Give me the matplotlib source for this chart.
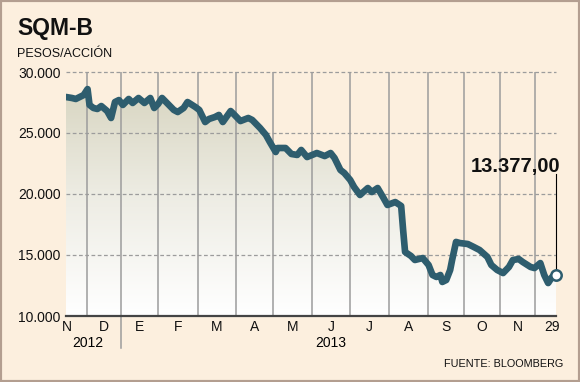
import numpy as np
import matplotlib
matplotlib.use("Agg")
import matplotlib.pyplot as plt
from matplotlib.colors import LinearSegmentedColormap
from matplotlib.patches import PathPatch, Rectangle
from matplotlib.transforms import blended_transform_factory

# SQM-B, cierre diario (sesiones desde mediados de nov 2012 hasta 29 nov 2013)
sesiones = [0, 3, 5, 7, 9, 11, 12, 14, 16, 18,
            21, 23, 25, 27, 29, 32, 34, 37, 40, 43,
            45, 47, 49, 52, 55, 57, 60, 62, 66, 68,
            71, 73, 76, 78, 80, 84, 86, 89, 93, 95,
            99, 102, 104, 107, 108, 112, 115, 118, 120, 123,
            128, 132, 135, 137, 140, 142, 145, 147, 150, 154,
            156, 159, 162, 164, 168, 171, 172, 173, 176, 178,
            182, 185, 187, 189, 191, 192, 194, 196, 197, 199,
            201, 205, 208, 211, 215, 217, 220, 223, 226, 228,
            231, 233, 237, 239, 242, 244, 246, 248, 250]
precios = [27950, 27870, 27790, 27950, 28110, 28600, 27300, 27050, 26970, 27210,
           26800, 26230, 27540, 27700, 27300, 27790, 27460, 27870, 27460, 27870,
           27050, 27380, 27870, 27380, 26890, 26720, 27050, 27540, 27130, 26890,
           25900, 26150, 26310, 26480, 25900, 26800, 26480, 25980, 26230, 26070,
           25410, 24840, 24260, 23440, 23770, 23770, 23280, 23200, 23610, 23030,
           23360, 23110, 23360, 22950, 21970, 21720, 21150, 20570, 19920, 20490,
           20160, 20490, 19670, 19100, 19340, 19020, 17050, 15250, 14920, 14590,
           14750, 14180, 13360, 13200, 13360, 12790, 12950, 13770, 14590, 16070,
           15980, 15900, 15660, 15410, 14840, 14180, 13770, 13520, 14020, 14590,
           14670, 14430, 14020, 13930, 14340, 13360, 12700, 13200, 13377]

# cambios de mes (en sesiones) y rotulos
cortes_mes = [10.7, 28.1, 46.9, 67.3, 86.7, 105.6, 125.5, 144.9, 164.8, 184.7, 203.1, 221.4, 239.3]
meses = ["N", "D", "E", "F", "M", "A", "M", "J", "J", "A", "S", "O", "N", "29"]
anios = ["2012", "2013"]
ticks_y = [10000, 15000, 20000, 25000, 30000]
ultimo = "13.377,00"

fondo = "#FCEFDE"
azul = "#2E5D6E"
gris = "#9C9C9C"

plt.rcParams["font.family"] = ["Liberation Sans", "DejaVu Sans"]

fig = plt.figure(figsize=(5.8, 3.82), dpi=100)
fig.patch.set_facecolor(fondo)
ax = fig.add_axes([66 / 580, 1 - 316 / 382, 490 / 580, 244 / 382])
ax.patch.set_alpha(0)
ax.set_xlim(0, 250)
ax.set_ylim(10000, 30000)

# relleno degradado bajo la curva
cmap = LinearSegmentedColormap.from_list("deg", ["#FFFFFF", "#EDECE3", "#D5D2BC"])
grad = np.linspace(0, 1, 256).reshape(-1, 1)
im = ax.imshow(grad, extent=[0, 250, 10000, 30000], origin="lower",
               aspect="auto", cmap=cmap, zorder=1)
area = ax.fill_between(sesiones, precios, 10000, facecolor="none", edgecolor="none")
clip = PathPatch(area.get_paths()[0], transform=ax.transData,
                 facecolor="none", edgecolor="none")
ax.add_patch(clip)
im.set_clip_path(clip)

# grilla
for c in cortes_mes:
    ax.axvline(c, color=gris, lw=1.1, zorder=2)
for v in ticks_y[1:]:
    ax.axhline(v, color=gris, lw=0.9, ls=(0, (3, 2)), zorder=2, clip_on=False)

# serie
ax.plot(sesiones, precios, color=azul, lw=4.8, solid_capstyle="round",
        solid_joinstyle="round", zorder=4)

# ultimo valor
ax.plot([sesiones[-1], sesiones[-1]], [21650, precios[-1] + 500],
        color="black", lw=0.8, zorder=5, clip_on=False)
ax.plot(sesiones[-1], precios[-1], "o", ms=7.5, mfc="white", mec=azul,
        mew=1.8, zorder=6, clip_on=False)
ax.text(252, 21800, ultimo, ha="right", va="baseline", fontsize=14.5,
        fontweight="bold", color="#111111")

# ejes
ax.set_yticks(ticks_y)
ax.set_yticklabels([f"{v:,}".replace(",", ".") for v in ticks_y])
pos_meses = [0.5] + [(a + b) / 2 for a, b in zip(cortes_mes[:-1], cortes_mes[1:])] + [248]
ax.set_xticks(pos_meses)
ax.set_xticklabels(meses)
ax.tick_params(axis="both", length=0, labelsize=10, labelcolor="#111111")
ax.tick_params(axis="y", pad=4)
ax.tick_params(axis="x", pad=3)
for s in ["left", "right", "top"]:
    ax.spines[s].set_visible(False)
ax.spines["bottom"].set_color("#444444")
ax.spines["bottom"].set_linewidth(1.6)

trans = blended_transform_factory(ax.transData, ax.transAxes)
ax.text(11.2, -0.111, anios[0], transform=trans, ha="center", va="center", fontsize=10)
ax.text(135, -0.111, anios[1], transform=trans, ha="center", va="center", fontsize=10)
ax.plot([cortes_mes[1], cortes_mes[1]], [0, -32 / 244], transform=trans,
        color=gris, lw=1.1, clip_on=False)

# textos
fig.text(17 / 580, 1 - 35 / 382, "SQM-B", fontsize=16.5, fontweight="bold",
         va="baseline", color="#111111")
fig.text(17 / 580, 1 - 57 / 382, "PESOS/ACCIÓN", fontsize=9, va="baseline",
         color="#111111")
fig.text(563 / 580, 1 - 367 / 382, "FUENTE: BLOOMBERG", fontsize=7.8,
         ha="right", va="baseline", color="#111111")

fig.patches.append(Rectangle((0, 0), 1, 1, transform=fig.transFigure,
                             fill=False, ec="#B39E90", lw=3))

fig.savefig("out.png", dpi=100, facecolor=fig.get_facecolor())
